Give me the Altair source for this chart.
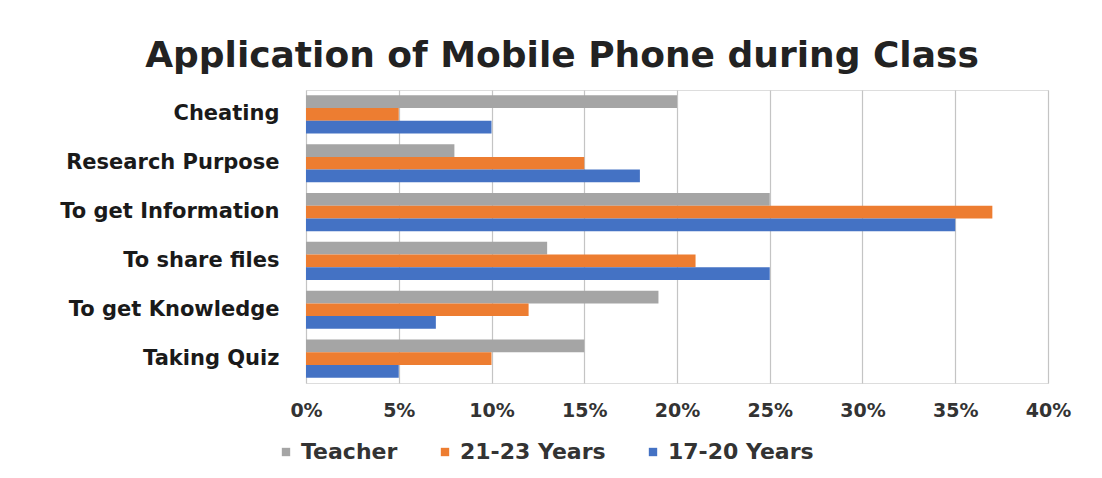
import altair as alt
import pandas as pd

categories = ["Cheating", "Research Purpose", "To get Information",
              "To share files", "To get Knowledge", "Taking Quiz"]
series = ["Teacher", "21-23 Years", "17-20 Years"]
teacher = [20, 8, 25, 13, 19, 15]
years_21_23 = [5, 15, 37, 21, 12, 10]
years_17_20 = [10, 18, 35, 25, 7, 5]
colors = ["#A5A5A5", "#ED7D31", "#4472C4"]

rows = []
for name, vals in zip(series, [teacher, years_21_23, years_17_20]):
    for c, v in zip(categories, vals):
        rows.append({"Category": c, "Series": name, "Value": v / 100})
df = pd.DataFrame(rows)

FONT = "DejaVu Sans"

chart = alt.Chart(df).mark_bar().encode(
    y=alt.Y("Category:N", sort=categories,
            scale=alt.Scale(paddingInner=0.22, paddingOuter=0.11),
            axis=alt.Axis(title=None, domain=False, ticks=False, grid=False,
                          labelPadding=27, labelFont=FONT, labelFontSize=21,
                          labelFontWeight="bold", labelColor="#1a1a1a",
                          labelLimit=400)),
    yOffset=alt.YOffset("Series:N", sort=series,
                        scale=alt.Scale(paddingInner=0, paddingOuter=0)),
    x=alt.X("Value:Q", scale=alt.Scale(domain=[0, 0.4], nice=False),
            axis=alt.Axis(title=None, format=".0%", values=[i / 100 for i in range(0, 41, 5)],
                          domain=False, ticks=False, grid=True, gridColor="#c4c4c4",
                          gridWidth=1.2, labelPadding=18, labelFont=FONT,
                          labelFontSize=19, labelFontWeight="bold",
                          labelColor="#333333", labelFlush=False)),
    color=alt.Color("Series:N", sort=series,
                    scale=alt.Scale(domain=series, range=colors),
                    legend=alt.Legend(title=None, orient="none", direction="horizontal",
                                      legendX=-31, legendY=351, symbolType="square",
                                      symbolSize=70, symbolStrokeWidth=0,
                                      labelFont=FONT, labelFontSize=22,
                                      labelFontWeight="bold", labelColor="#333333",
                                      columnPadding=36, labelOffset=4, labelLimit=300)),
).properties(
    width=742, height=293,
    title=alt.TitleParams("Application of Mobile Phone during Class",
                          font=FONT, fontSize=36, fontWeight="bold",
                          color="#222222", anchor="middle", dx=-115, offset=15),
    autosize=alt.AutoSizeParams(type="none"),
    padding={"left": 306, "top": 90, "right": 54, "bottom": 95},
).configure_view(stroke=None).configure(background="white")

chart.save("out.html", embed_options={"renderer": "svg", "actions": False})
